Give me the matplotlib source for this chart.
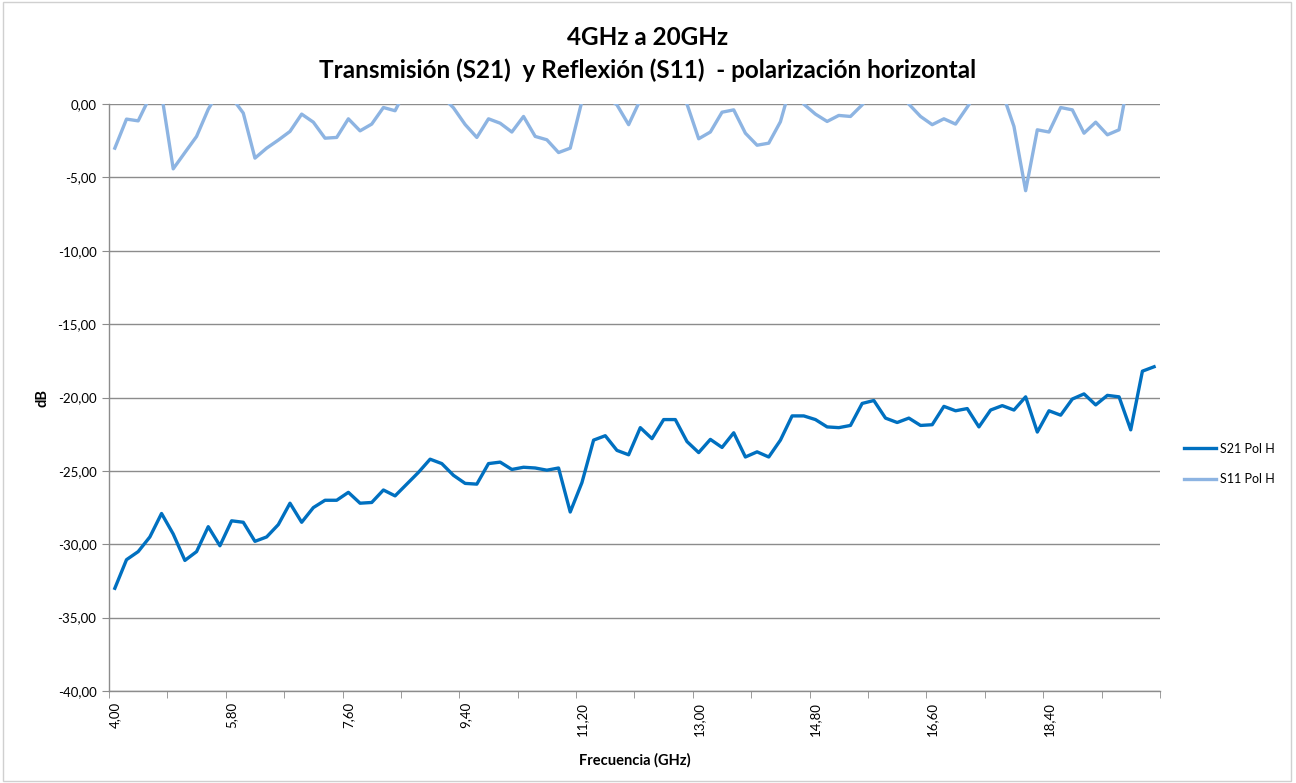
import matplotlib
matplotlib.use("Agg")
import matplotlib.pyplot as plt
from matplotlib.ticker import FixedLocator, FuncFormatter
from matplotlib.patches import Rectangle
import numpy as np

plt.rcParams['font.family'] = ['Lato', 'DejaVu Sans']

# frecuencias: 4.00 a 20.02 GHz, paso 0.18
freq = [round(4.0 + 0.18 * k, 2) for k in range(90)]

s21 = [-33.0, -31.05, -30.5, -29.5, -27.9, -29.3, -31.1, -30.5, -28.8, -30.1,
       -28.4, -28.5, -29.8, -29.5, -28.66, -27.2, -28.5, -27.5, -27.0, -27.0,
       -26.46, -27.2, -27.15, -26.3, -26.7, -25.9, -25.1, -24.2, -24.5, -25.3,
       -25.85, -25.9, -24.5, -24.4, -24.9, -24.75, -24.8, -24.95, -24.8, -27.8,
       -25.8, -22.9, -22.6, -23.6, -23.9, -22.05, -22.8, -21.5, -21.5, -23.0,
       -23.75, -22.85, -23.4, -22.4, -24.05, -23.7, -24.05, -22.9, -21.25, -21.25,
       -21.5, -22.0, -22.05, -21.9, -20.4, -20.2, -21.4, -21.7, -21.4, -21.9,
       -21.85, -20.6, -20.9, -20.75, -22.0, -20.85, -20.55, -20.85, -19.95, -22.35,
       -20.9, -21.2, -20.1, -19.75, -20.5, -19.85, -19.95, -22.2, -18.2, -17.9]

s11 = [-3.0, -1.02, -1.14, 0.5, 0.7, -4.41, -3.3, -2.2, -0.35, 1.0,
       0.47, -0.61, -3.68, -3.0, -2.45, -1.86, -0.68, -1.23, -2.32, -2.27,
       -1.0, -1.82, -1.36, -0.23, -0.45, 1.1, 1.5, 1.2, 0.55, -0.25,
       -1.39, -2.27, -1.0, -1.3, -1.9, -0.84, -2.2, -2.43, -3.3, -3.0,
       0.2, 1.2, 0.5, -0.05, -1.4, 0.3, 1.2, 1.5, 1.0, 0.0,
       -2.36, -1.9, -0.55, -0.39, -1.98, -2.8, -2.66, -1.2, 1.6, 0.0,
       -0.68, -1.18, -0.77, -0.84, -0.05, 1.0, 1.5, 1.0, 0.0, -0.84,
       -1.4, -1.0, -1.36, -0.2, 1.0, 1.5, 0.8, -1.52, -5.9, -1.75,
       -1.9, -0.23, -0.39, -1.98, -1.23, -2.09, -1.75, 2.5, 2.0, 1.5]

yticks = [0, -5, -10, -15, -20, -25, -30, -35, -40]

fig = plt.figure(figsize=(12.96, 7.83), dpi=100)
ax = fig.add_axes([0.0841, 0.1175, 0.8109, 0.7495])

x = np.arange(len(freq))
ax.plot(x, s21, color='#0070C0', lw=2.4, label='S21 Pol H', solid_joinstyle='round')
ax.plot(x, s11, color='#8DB4E2', lw=2.4, label='S11 Pol H', solid_joinstyle='round')

ax.set_xlim(-0.5, len(freq) - 0.5)
ax.set_ylim(-40, 0)

# eje y
ax.set_yticks(yticks)
ax.yaxis.set_major_formatter(FuncFormatter(lambda v, p: ('%.2f' % v).replace('.', ',')))
ax.grid(axis='y', color='#8c8c8c', lw=1.0)
ax.set_axisbelow(True)

# eje x (categorias)
lab_idx = list(range(0, len(freq), 10))
ax.xaxis.set_major_locator(FixedLocator(lab_idx))
ax.set_xticklabels([('%.2f' % freq[i]).replace('.', ',') for i in lab_idx], rotation=90)
ax.xaxis.set_minor_locator(FixedLocator(np.arange(-0.5, len(freq), 5)))
ax.tick_params(axis='x', which='major', length=0, pad=8, labelsize=9.5)
ax.tick_params(axis='x', which='minor', length=5, color='#8c8c8c', direction='out')
ax.tick_params(axis='y', length=5, color='#8c8c8c', labelsize=9.5, pad=4)

for s in ['top', 'right']:
    ax.spines[s].set_visible(False)
for s in ['left', 'bottom']:
    ax.spines[s].set_color('#8c8c8c')
    ax.spines[s].set_linewidth(1.0)

ax.set_ylabel('dB', fontsize=10.5, fontweight='bold', labelpad=6)
ax.set_xlabel('Frecuencia (GHz)', fontsize=10.5, fontweight='bold', labelpad=12)

fig.text(0.4995, 0.952, '4GHz a 20GHz', ha='center', va='center', fontsize=17.5, fontweight='bold')
fig.text(0.4995, 0.910, 'Transmisión (S21)  y Reflexión (S11)  - polarización horizontal',
         ha='center', va='center', fontsize=17.5, fontweight='bold')

ax.legend(loc='center left', bbox_to_anchor=(1.012, 0.387), frameon=False,
          fontsize=9, handlelength=2.6, labelspacing=1.45, handletextpad=0.3)

fig.patches.append(Rectangle((0.002, 0.003), 0.994, 0.994, transform=fig.transFigure,
                             fill=False, edgecolor='#d0d0d0', lw=1))

fig.savefig('out.png', dpi=100)
